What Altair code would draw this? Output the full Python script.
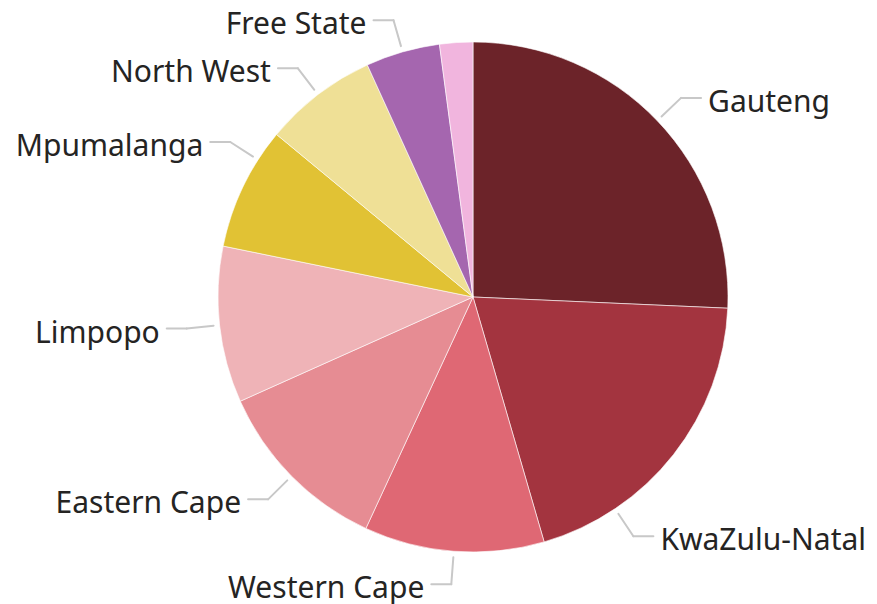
import altair as alt
import pandas as pd

# ---- data ----
provinces = ["Gauteng", "KwaZulu-Natal", "Western Cape", "Eastern Cape", "Limpopo",
             "Mpumalanga", "North West", "Free State", "Northern Cape"]
shares = [25.7, 19.8, 11.4, 11.4, 9.9, 7.8, 7.2, 4.7, 2.1]
colors = ["#6C2329", "#A3343F", "#DF6874", "#E68C93", "#EFB3B7",
          "#E1C234", "#EFE096", "#A566AF", "#F1B5DE"]
label_shown = [True, True, True, True, True, True, True, True, False]

df = pd.DataFrame({
    "province": provinces,
    "share": shares,
    "idx": list(range(len(provinces))),
    "show": label_shown,
})

# ---- layout / style ----
W, H = 861, 596
CX, CY, R = 465, 289, 255
R1, R2 = R + 6, R + 33      # leader line: start / elbow radius
HSEG, GAP = 20, 7           # horizontal leader segment, gap before text
LINE_COLOR = "#C8C8C8"
TEXT_COLOR = "#252423"
FONT = "Noto Sans"
FS = 30
TEXT_DY = 5
# label collision nudges (degrees), like the original's label layout
nudge = "(datum.province == 'KwaZulu-Natal' ? 18 : (datum.province == 'Mpumalanga' ? 7 : 0))"

base = alt.Chart(df)

pie = base.mark_arc(outerRadius=R, stroke="white", strokeWidth=0.6).encode(
    theta=alt.Theta("share:Q", stack=True),
    order=alt.Order("idx:Q", sort="ascending"),
    color=alt.Color("province:N", scale=alt.Scale(domain=provinces, range=colors), legend=None),
    x=alt.value(CX),
    y=alt.value(CY),
)

geo = (
    base.transform_window(cum="sum(share)", sort=[alt.SortField("idx")], frame=[None, 0])
    .transform_joinaggregate(total="sum(share)")
    .transform_filter("datum.show")
    .transform_calculate(a=f"((datum.cum - datum.share / 2) / datum.total * 360 + {nudge}) * PI / 180")
    .transform_calculate(s="sin(datum.a)")
    .transform_calculate(c="cos(datum.a)")
    .transform_calculate(x1=f"{CX} + {R1} * datum.s")
    .transform_calculate(y1=f"{CY} - {R1} * datum.c")
    .transform_calculate(x2=f"{CX} + {R2} * datum.s")
    .transform_calculate(y2=f"{CY} - {R2} * datum.c")
    .transform_calculate(dir="datum.s >= 0 ? 1 : -1")
    .transform_calculate(x3=f"datum.x2 + datum.dir * {HSEG}")
    .transform_calculate(xt=f"datum.x3 + datum.dir * {GAP}")
)

radial = geo.mark_rule(color=LINE_COLOR, strokeWidth=2, strokeCap="round").encode(
    x=alt.X("x1:Q", scale=None, axis=None),
    y=alt.Y("y1:Q", scale=None, axis=None),
    x2="x2:Q",
    y2="y2:Q",
)

horiz = geo.mark_rule(color=LINE_COLOR, strokeWidth=2, strokeCap="round").encode(
    x=alt.X("x2:Q", scale=None, axis=None),
    y=alt.Y("y2:Q", scale=None, axis=None),
    x2="x3:Q",
)

text_right = geo.transform_filter("datum.dir > 0").mark_text(
    align="left", baseline="middle", dy=TEXT_DY, font=FONT, fontSize=FS, color=TEXT_COLOR
).encode(
    x=alt.X("xt:Q", scale=None, axis=None),
    y=alt.Y("y2:Q", scale=None, axis=None),
    text="province:N",
)

text_left = geo.transform_filter("datum.dir < 0").mark_text(
    align="right", baseline="middle", dy=TEXT_DY, font=FONT, fontSize=FS, color=TEXT_COLOR
).encode(
    x=alt.X("xt:Q", scale=None, axis=None),
    y=alt.Y("y2:Q", scale=None, axis=None),
    text="province:N",
)

chart = (
    alt.layer(pie, radial, horiz, text_right, text_left)
    .properties(width=W, height=H, autosize="none", padding=0, background="white")
    .configure_view(stroke=None)
)

chart.save("out.html", embed_options={"renderer": "svg", "actions": False})
